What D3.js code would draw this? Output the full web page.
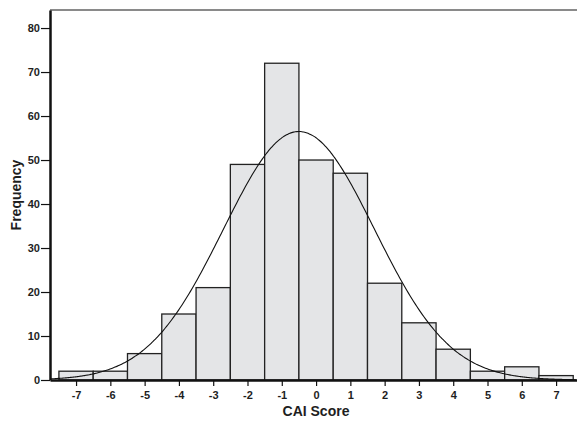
<!DOCTYPE html>
<html lang="en">
<head>
<meta charset="UTF-8">
<title>CAI Score Histogram</title>
<style>
  body { margin: 0; background: #fff; }
  svg { display: block; font-family: "Liberation Sans", Arial, sans-serif; }
  .axis text { font-size: 11px; font-weight: bold; fill: #1e1e1e; }
  .axis path, .axis line { stroke: #111; }
  .bar { fill: #e4e5e7; stroke: #222; stroke-width: 1.3; }
  .curve { fill: none; stroke: #111; stroke-width: 1.1; }
</style>
</head>
<body>
<script src="https://d3js.org/d3.v7.min.js"></script>
<script>
  // bin centres (CAI score) and counts
  const scores = [-7, -6, -5, -4, -3, -2, -1, 0, 1, 2, 3, 4, 5, 6, 7];
  const counts = [2, 2, 6, 15, 21, 49, 72, 50, 47, 22, 13, 7, 2, 3, 1];
  const yTicks = [0, 10, 20, 30, 40, 50, 60, 70, 80];

  const W = 577, H = 422;
  const plotLeft = 50, plotRight = 577, plotTop = 10, plotBottom = 380;

  const svg = d3.select('body').append('svg')
    .attr('width', W)
    .attr('height', H);

  const x = d3.scaleLinear().domain([-7.76, 7.61]).range([plotLeft, plotRight]);
  const y = d3.scaleLinear().domain([0, 84.1]).range([plotBottom, plotTop]);

  // bars
  svg.selectAll('.bar')
    .data(scores)
    .enter()
    .append('rect')
    .attr('class', 'bar')
    .attr('x', (d) => x(d - 0.5))
    .attr('width', (d) => x(d + 0.5) - x(d - 0.5))
    .attr('y', (d, i) => y(counts[i]))
    .attr('height', (d, i) => y(0) - y(counts[i]));

  // normal curve fitted to the binned data
  const n = d3.sum(counts);
  const mean = d3.sum(scores, (d, i) => d * counts[i]) / n;
  const sd = Math.sqrt(d3.sum(scores, (d, i) => (d - mean) ** 2 * counts[i]) / (n - 1));
  const pdf = (v) => n / (sd * Math.sqrt(2 * Math.PI)) * Math.exp(-0.5 * ((v - mean) / sd) ** 2);
  const xs = d3.range(x.domain()[0], x.domain()[1] + 0.001, 0.05);

  svg.append('path')
    .datum(xs)
    .attr('class', 'curve')
    .attr('d', d3.line().x((d) => x(d)).y((d) => y(pdf(d))).curve(d3.curveBasis));

  // top frame line
  svg.append('line')
    .attr('x1', plotLeft).attr('x2', plotRight)
    .attr('y1', plotTop).attr('y2', plotTop)
    .attr('stroke', '#8a8a8a').attr('stroke-width', 2);

  // axes (plain hyphen for negatives, like the original)
  const gx = svg.append('g')
    .attr('class', 'axis')
    .attr('transform', `translate(0,${plotBottom})`)
    .call(d3.axisBottom(x).tickValues(scores).tickFormat((d) => String(d))
      .tickSize(6).tickSizeOuter(0).tickPadding(5));
  gx.select('.domain').attr('stroke-width', 2.5);
  gx.selectAll('.tick line').attr('stroke-width', 1.2);

  const gy = svg.append('g')
    .attr('class', 'axis')
    .attr('transform', `translate(${plotLeft},0)`)
    .call(d3.axisLeft(y).tickValues(yTicks).tickFormat((d) => String(d))
      .tickSize(9).tickSizeOuter(0).tickPadding(1));
  gy.select('.domain').attr('stroke-width', 2.5);
  gy.selectAll('.tick line').attr('stroke-width', 1.2);

  // axis titles
  svg.append('text')
    .attr('x', 316)
    .attr('y', 416)
    .attr('text-anchor', 'middle')
    .style('font-size', '14px')
    .style('font-weight', 'bold')
    .style('fill', '#1e1e1e')
    .text('CAI Score');

  svg.append('text')
    .attr('transform', 'translate(21,195) rotate(-90)')
    .attr('text-anchor', 'middle')
    .style('font-size', '14px')
    .style('font-weight', 'bold')
    .style('fill', '#1e1e1e')
    .text('Frequency');
</script>
</body>
</html>
